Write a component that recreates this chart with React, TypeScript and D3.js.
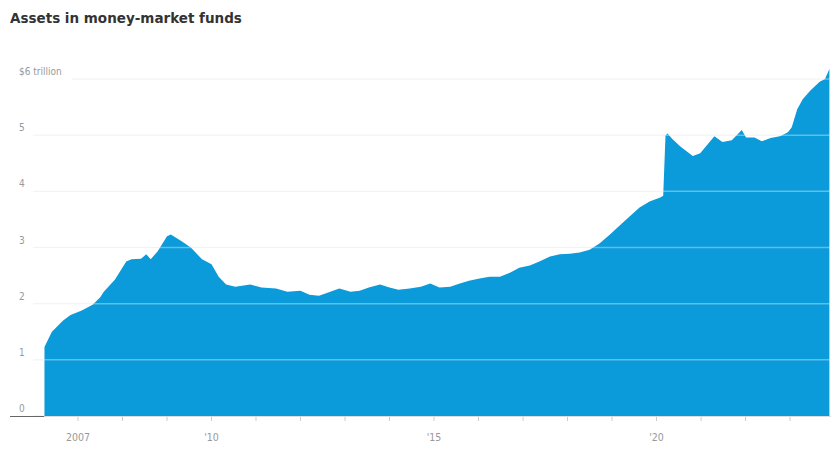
import React from "react";
import * as d3 from "d3";

const TITLE = "Assets in money-market funds";
const dates = [
  "2006-04-01","2006-06-01","2006-09-01","2006-11-01","2007-02-01","2007-05-01","2007-07-01","2007-08-01","2007-11-01",
  "2008-02-01","2008-03-15","2008-06-01","2008-07-15","2008-08-20","2008-10-15","2009-01-01","2009-02-01","2009-05-01",
  "2009-07-15","2009-10-15","2010-01-01","2010-03-01","2010-05-01","2010-07-15","2010-11-15","2011-02-15","2011-06-15",
  "2011-09-15","2012-01-01","2012-03-15","2012-06-01","2012-08-15","2012-11-15","2013-02-15","2013-05-01","2013-07-15",
  "2013-10-15","2014-01-01","2014-03-15","2014-06-15","2014-09-15","2014-12-01","2015-02-15","2015-05-15","2015-08-01",
  "2015-10-15","2016-01-10","2016-04-01","2016-06-25","2016-09-15","2016-12-01","2017-02-25","2017-05-15","2017-08-10",
  "2017-10-30","2018-01-20","2018-04-10","2018-07-01","2018-09-20","2018-12-15","2019-03-05","2019-05-25","2019-08-15",
  "2019-11-05","2020-02-01","2020-02-25","2020-03-15","2020-04-01","2020-05-10","2020-07-15","2020-10-25","2020-12-25",
  "2021-04-20","2021-06-25","2021-09-10","2021-12-01","2022-01-05","2022-03-15","2022-05-15","2022-07-25","2022-10-10",
  "2022-12-15","2023-01-15","2023-03-01","2023-04-15","2023-06-15","2023-09-01","2023-10-15","2023-11-20"
];
const assets = [
  1.23,1.50,1.70,1.80,1.88,1.98,2.11,2.21,2.43,
  2.75,2.79,2.80,2.88,2.79,2.93,3.20,3.23,3.11,
  3.00,2.79,2.70,2.48,2.34,2.30,2.34,2.29,2.27,
  2.21,2.23,2.16,2.14,2.20,2.27,2.21,2.23,2.29,
  2.34,2.29,2.25,2.27,2.30,2.36,2.29,2.30,2.36,
  2.41,2.45,2.48,2.48,2.55,2.64,2.68,2.75,2.84,
  2.88,2.89,2.91,2.96,3.07,3.23,3.39,3.55,3.71,
  3.82,3.89,3.92,5.00,5.03,4.93,4.80,4.63,4.68,
  4.98,4.88,4.91,5.09,4.96,4.96,4.89,4.95,4.98,
  5.05,5.14,5.46,5.64,5.79,5.95,6.00,6.18
];
const yTicks = [0, 1, 2, 3, 4, 5, 6];
const yTickLabels = ["0", "1", "2", "3", "4", "5", "$6 trillion"];
const xLabelYears = [2007, 2010, 2015, 2020];
const xLabels = ["2007", "'10", "'15", "'20"];

const W = 831, H = 449;
const FONT = "'DejaVu Sans Condensed', 'Liberation Sans Narrow', 'Liberation Sans', sans-serif";
const TITLE_FONT = "'DejaVu Sans', 'Liberation Sans', sans-serif";

export default function App() {
  const parse = d3.timeParse("%Y-%m-%d");
  const data = dates.map((d, i) => ({ date: parse(d) as Date, value: assets[i] }));

  const x = d3.scaleTime()
    .domain([new Date(2006, 0, 1), new Date(2024, 0, 1)])
    .range([33.5, 33.5 + 18 * 44.5]);
  const y = d3.scaleLinear().domain([0, 6]).range([416, 79]);

  const area = d3.area<{ date: Date; value: number }>()
    .x(d => x(d.date))
    .y0(y(0))
    .y1(d => y(d.value))
    .curve(d3.curveLinear);

  const yearTicks = d3.range(2007, 2024).map(yr => new Date(yr, 0, 1));
  const gridX0 = 33;

  return (
    <svg width={W} height={H} style={{ position: "absolute", left: 0, top: 0, background: "#fff" }}>
      <text x={10} y={23} fontFamily={TITLE_FONT} fontSize={13.5} fontWeight="bold" fill="#333">{TITLE}</text>

      {yTicks.map((t, i) => (
        <line key={"g" + t} x1={i === 6 ? 72 : gridX0} x2={W} y1={y(t)} y2={y(t)} stroke="#ececec" strokeWidth={1} />
      ))}

      <path d={area(data) || ""} fill="#0b9bda" />

      {yTicks.filter(t => t > 0).map(t => (
        <line key={"w" + t} x1={gridX0} x2={W} y1={y(t)} y2={y(t)} stroke="#ffffff" strokeOpacity={0.35} strokeWidth={1.5} />
      ))}

      {yTicks.map((t, i) => (
        <text key={"yl" + t} x={19} y={y(t) - 4} fontFamily={FONT} fontSize={10} fill="#999">{yTickLabels[i]}</text>
      ))}

      <line x1={10} x2={x(data[0].date)} y1={416.5} y2={416.5} stroke="#666" strokeWidth={1} />
      <line x1={x(data[0].date)} x2={W} y1={416.5} y2={416.5} stroke="#ddd" strokeWidth={1} />

      {yearTicks.map((d, i) => (
        <line key={"t" + i} x1={x(d)} x2={x(d)} y1={417} y2={421} stroke="#ccc" strokeWidth={1} />
      ))}

      {xLabelYears.map((yr, i) => (
        <text key={"xl" + yr} x={x(new Date(yr, 0, 1))} y={441} textAnchor="middle" fontFamily={FONT} fontSize={10.5} fill="#999">{xLabels[i]}</text>
      ))}
    </svg>
  );
}
